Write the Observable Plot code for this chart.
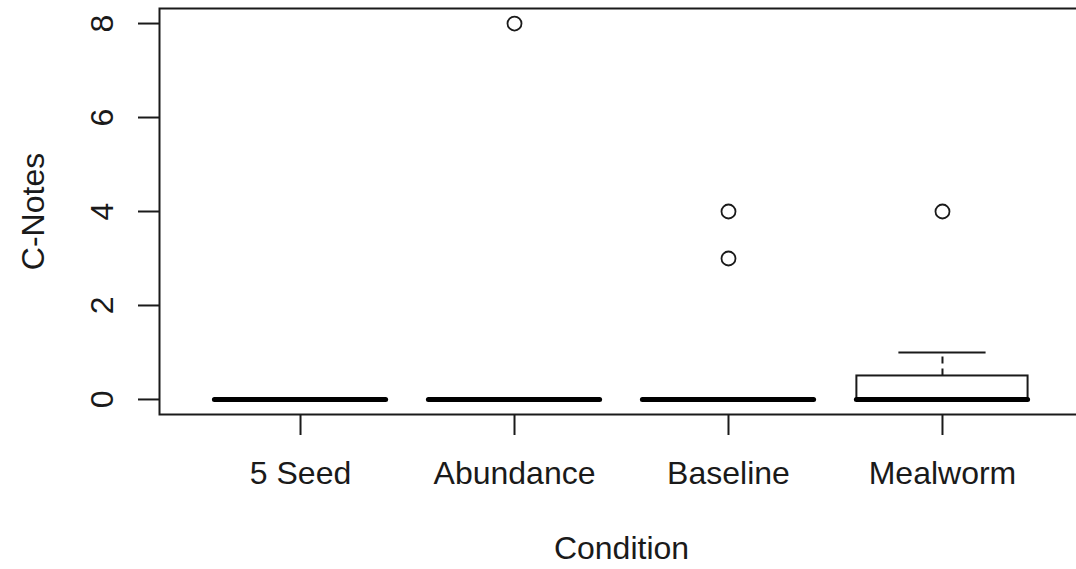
<!DOCTYPE html>
<html>
<head>
<meta charset="utf-8">
<script src="https://cdn.jsdelivr.net/npm/d3@7"></script>
<script src="https://cdn.jsdelivr.net/npm/@observablehq/plot@0.6"></script>
<style>
  html, body { margin: 0; padding: 0; background: #fff; overflow: hidden; }
</style>
</head>
<body>
<div id="chart"></div>
<script>
// Box-plot summaries per condition
const categories = ["5 Seed", "Abundance", "Baseline", "Mealworm"];
const q1Values = [0, 0, 0, 0];
const medianValues = [0, 0, 0, 0];
const q3Values = [0, 0, 0, 0.5];
const whiskerLow = [0, 0, 0, 0];
const whiskerHigh = [0, 0, 0, 1];
const outlierCategories = ["Abundance", "Baseline", "Baseline", "Mealworm"];
const outlierValues = [8, 4, 3, 4];
const yTicks = [0, 2, 4, 6, 8];

const boxes = categories.map((c, i) => ({
  cat: c, q1: q1Values[i], med: medianValues[i], q3: q3Values[i],
  lo: whiskerLow[i], hi: whiskerHigh[i]
}));
const outliers = outlierCategories.map((c, i) => ({cat: c, v: outlierValues[i]}));

const ink = "#1a1a1a";

const chart = Plot.plot({
  width: 1076,
  height: 569,
  marginTop: 8,
  marginBottom: 155,
  marginLeft: 159,
  marginRight: -7,
  style: {
    fontFamily: "'Liberation Sans', Arial, Helvetica, sans-serif",
    fontSize: "32px",
    color: ink,
    background: "#fff",
    overflow: "hidden"
  },
  x: {domain: categories, paddingInner: 0.2, paddingOuter: 0.259, round: false, axis: null},
  y: {domain: [-0.32, 8.32], axis: null},
  marks: [
    Plot.frame({stroke: ink, strokeWidth: 2}),
    // y axis ticks
    Plot.axisY({ticks: yTicks, tickSize: 21, tickFormat: () => "", label: null, stroke: ink, strokeWidth: 2}),
    Plot.text(yTicks, {y: d => d, text: d => String(d), frameAnchor: "left", dx: -57, rotate: -90,
      textAnchor: "middle", lineAnchor: "middle", fill: ink, fontSize: 32}),
    // x axis
    Plot.axisX({tickSize: 21, tickPadding: 26, label: null, stroke: ink, strokeWidth: 2, fill: ink, fontSize: 32}),
    // whiskers (dashed)
    Plot.ruleX(boxes, {x: "cat", y1: "q3", y2: "hi", stroke: ink, strokeWidth: 2, strokeDasharray: "7,5"}),
    Plot.ruleX(boxes, {x: "cat", y1: "lo", y2: "q1", stroke: ink, strokeWidth: 2, strokeDasharray: "7,5"}),
    // staples
    Plot.tickY(boxes, {x: "cat", y: "hi", inset: 42, stroke: ink, strokeWidth: 2}),
    Plot.tickY(boxes, {x: "cat", y: "lo", inset: 42, stroke: ink, strokeWidth: 2}),
    // boxes
    Plot.rect(boxes, {x: "cat", y1: "q1", y2: "q3", fill: "#fff", stroke: ink, strokeWidth: 2}),
    // medians
    Plot.tickY(boxes, {x: "cat", y: "med", stroke: "#000", strokeWidth: 5, strokeLinecap: "round"}),
    // outliers
    Plot.dot(outliers, {x: "cat", y: "v", r: 7, fill: "none", stroke: ink, strokeWidth: 1.8}),
    // axis titles
    Plot.text(["C-Notes"], {text: d => d, frameAnchor: "left", dx: -126, rotate: -90,
      textAnchor: "middle", lineAnchor: "middle", fill: ink, fontSize: 32}),
    Plot.text(["Condition"], {text: d => d, frameAnchor: "bottom", dy: 134,
      textAnchor: "middle", lineAnchor: "middle", fill: ink, fontSize: 32})
  ]
});
document.getElementById("chart").appendChild(chart);
</script>
</body>
</html>
